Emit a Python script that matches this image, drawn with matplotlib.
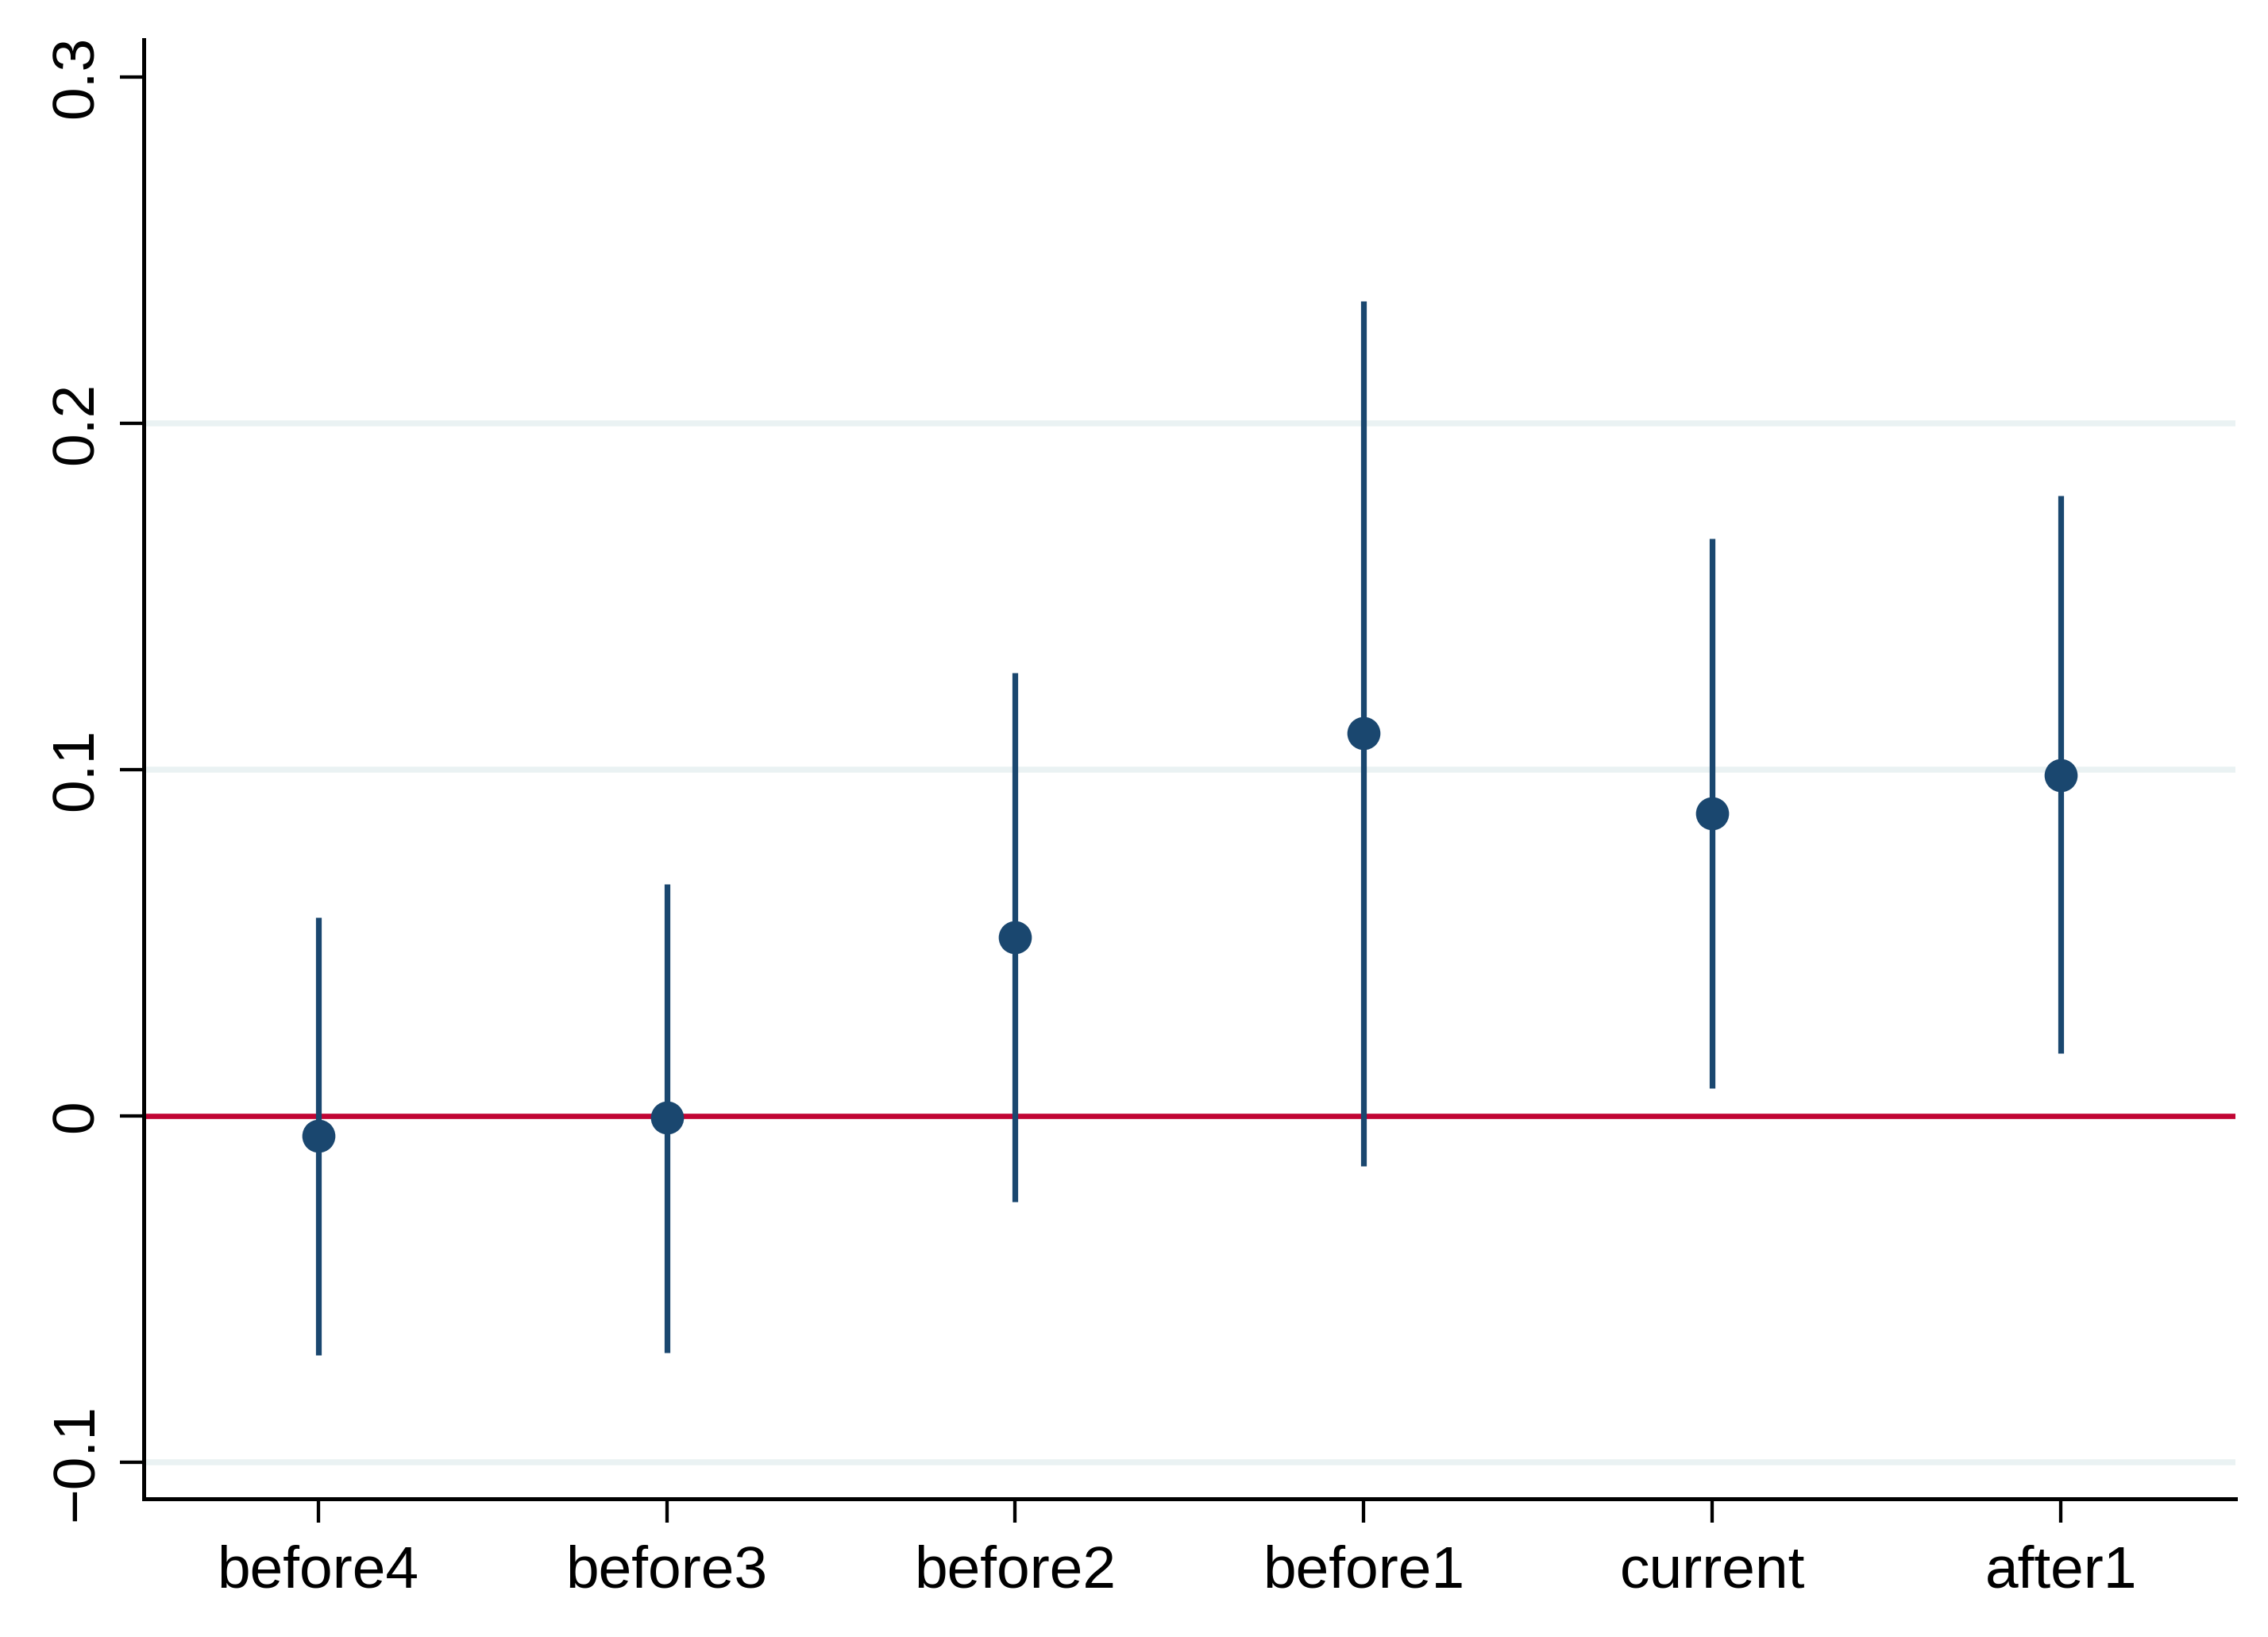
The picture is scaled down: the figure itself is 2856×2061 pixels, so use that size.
import matplotlib
matplotlib.use("Agg")
import matplotlib.pyplot as plt

# ---- data ----
labels = ["before4", "before3", "before2", "before1", "current", "after1"]
coef = [-0.0057, -0.0005, 0.0516, 0.1106, 0.0874, 0.0985]
ci_low = [-0.0690, -0.0683, -0.0247, -0.0144, 0.0081, 0.0180]
ci_high = [0.0573, 0.0670, 0.1280, 0.2353, 0.1667, 0.1791]
yticks = [-0.1, 0, 0.1, 0.2, 0.3]
ytick_labels = ["\u22120.1", "0", "0.1", "0.2", "0.3"]
grid_at = [-0.1, 0.1, 0.2]

navy = "#1A476F"
red = "#C10534"

plt.rcParams["font.family"] = ["Liberation Sans", "DejaVu Sans"]

fig = plt.figure(figsize=(14.28, 10.305), dpi=200)
ax = fig.add_axes([0.0634, 0.0844, 0.9222, 0.8913])

xs = list(range(1, len(labels) + 1))

# light grid lines (Stata style, no line at the top tick)
for g in grid_at:
    ax.axhline(g, color="#EAF2F3", lw=2.7, zorder=0)

# zero reference line
ax.axhline(0, color=red, lw=2.4, zorder=1)

# confidence intervals and point estimates
ax.vlines(xs, ci_low, ci_high, color=navy, lw=2.6, zorder=2)
ax.plot(xs, coef, "o", color=navy, markersize=15, markeredgewidth=0, zorder=3)

ax.set_xlim(0.5, 6.5)
ax.set_ylim(-0.1106, 0.3108)
ax.set_xticks(xs)
ax.set_xticklabels(labels)
ax.set_yticks(yticks)
ax.set_yticklabels(ytick_labels, rotation=90, va="center")

for side in ["top", "right"]:
    ax.spines[side].set_visible(False)
for side in ["left", "bottom"]:
    ax.spines[side].set_linewidth(1.8)

ax.tick_params(axis="both", direction="out", length=10.8, width=1.55,
               labelsize=27)
ax.tick_params(axis="x", pad=10)
ax.tick_params(axis="y", pad=7)

fig.savefig("out.png", dpi=200)
